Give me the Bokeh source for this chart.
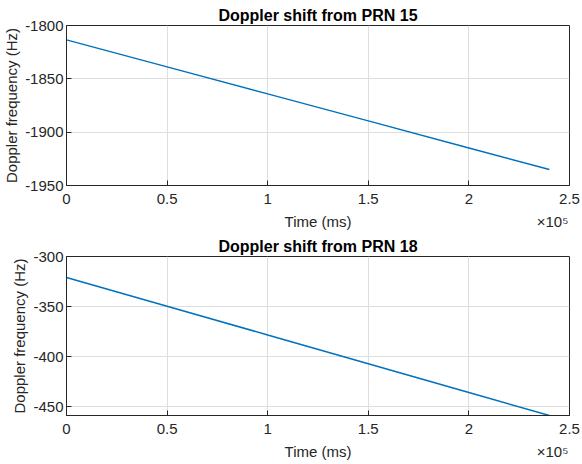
from bokeh.plotting import figure
from bokeh.layouts import column
from bokeh.models import (Range1d, FixedTicker, CustomJSTickFormatter, LinearAxis)
from bokeh.embed import file_html
from bokeh.resources import INLINE

# ---- data ----
time_ms = [0, 50000, 100000, 150000, 200000, 240000]
doppler_prn15 = [-1813.5, -1838.8, -1864.1, -1889.4, -1914.8, -1935.0]
doppler_prn18 = [-321.0, -349.7, -378.5, -407.2, -436.0, -459.0]

x_ticks = [0, 50000, 100000, 150000, 200000, 250000]
y_ticks_15 = [-1950, -1900, -1850, -1800]
y_ticks_18 = [-450, -400, -350, -300]

titles = ["Doppler shift from PRN 15", "Doppler shift from PRN 18"]
x_label = "Time (ms)"
y_label = "Doppler frequency (Hz)"
exp_text = "\u00d710\u2075"

FONT = "Liberation Sans"
AX = "#262626"
LINE = "#0072BD"
GRID = "#dedede"
EXP_POS = 241600  # horizontal anchor of the exponent note (style)


def style_axis(ax):
    ax.axis_line_color = AX
    ax.major_tick_line_color = AX
    ax.major_tick_in = 5
    ax.major_tick_out = 0
    ax.minor_tick_line_color = None
    ax.major_label_text_font = FONT
    ax.major_label_text_color = AX
    ax.axis_label_text_font = FONT
    ax.axis_label_text_color = AX
    ax.axis_label_text_font_style = "normal"
    ax.major_label_text_font_size = "15px"
    ax.axis_label_text_font_size = "15px"


def make_plot(title, y, yr, yticks, top_border, frame_h, bottom_border):
    p = figure(width=582, height=top_border + frame_h + bottom_border,
               output_backend="svg", toolbar_location=None,
               x_range=Range1d(0, 250000), y_range=Range1d(*yr),
               min_border_left=66, min_border_right=13,
               min_border_top=top_border, min_border_bottom=bottom_border,
               title=title)
    p.title.text_font = FONT
    p.title.text_font_size = "16px"
    p.title.text_font_style = "bold"
    p.title.text_color = "#000000"
    p.title.align = "center"
    p.title.standoff = 4
    p.outline_line_color = AX
    p.outline_line_alpha = 1
    p.background_fill_color = "white"
    p.border_fill_color = "white"

    xt = FixedTicker(ticks=x_ticks)
    yt = FixedTicker(ticks=yticks)
    p.xaxis.ticker = xt
    p.yaxis.ticker = yt
    p.xaxis.formatter = CustomJSTickFormatter(code="return String(Math.round(tick/5e4)*0.5);")
    p.yaxis.formatter = CustomJSTickFormatter(code="return String(Math.round(tick));")
    p.xaxis.axis_label = x_label
    p.yaxis.axis_label = y_label
    style_axis(p.xaxis[0])
    style_axis(p.yaxis[0])
    p.xaxis.major_label_standoff = 8
    p.xaxis.axis_label_standoff = 6
    p.yaxis.major_label_standoff = 3
    p.yaxis.axis_label_standoff = 2

    # exponent note (x10^5) drawn as a tick label of a bare extra axis
    ex = LinearAxis(ticker=FixedTicker(ticks=[EXP_POS]),
                    formatter=CustomJSTickFormatter(args=dict(t=exp_text), code="return t;"))
    style_axis(ex)
    ex.axis_line_color = None
    ex.major_tick_line_color = None
    ex.major_label_standoff = -20
    p.add_layout(ex, "below")

    p.xgrid.ticker = xt
    p.ygrid.ticker = yt
    p.grid.grid_line_color = GRID
    p.grid.grid_line_width = 1

    p.line(time_ms, y, line_color=LINE, line_width=1.5)
    return p


p1 = make_plot(titles[0], doppler_prn15, (-1950, -1800), y_ticks_15, 25, 160, 47)
p2 = make_plot(titles[1], doppler_prn18, (-459, -300), y_ticks_18, 24, 159, 49)

layout = column(p1, p2, spacing=0)
open("out.html", "w").write(file_html(layout, INLINE))
